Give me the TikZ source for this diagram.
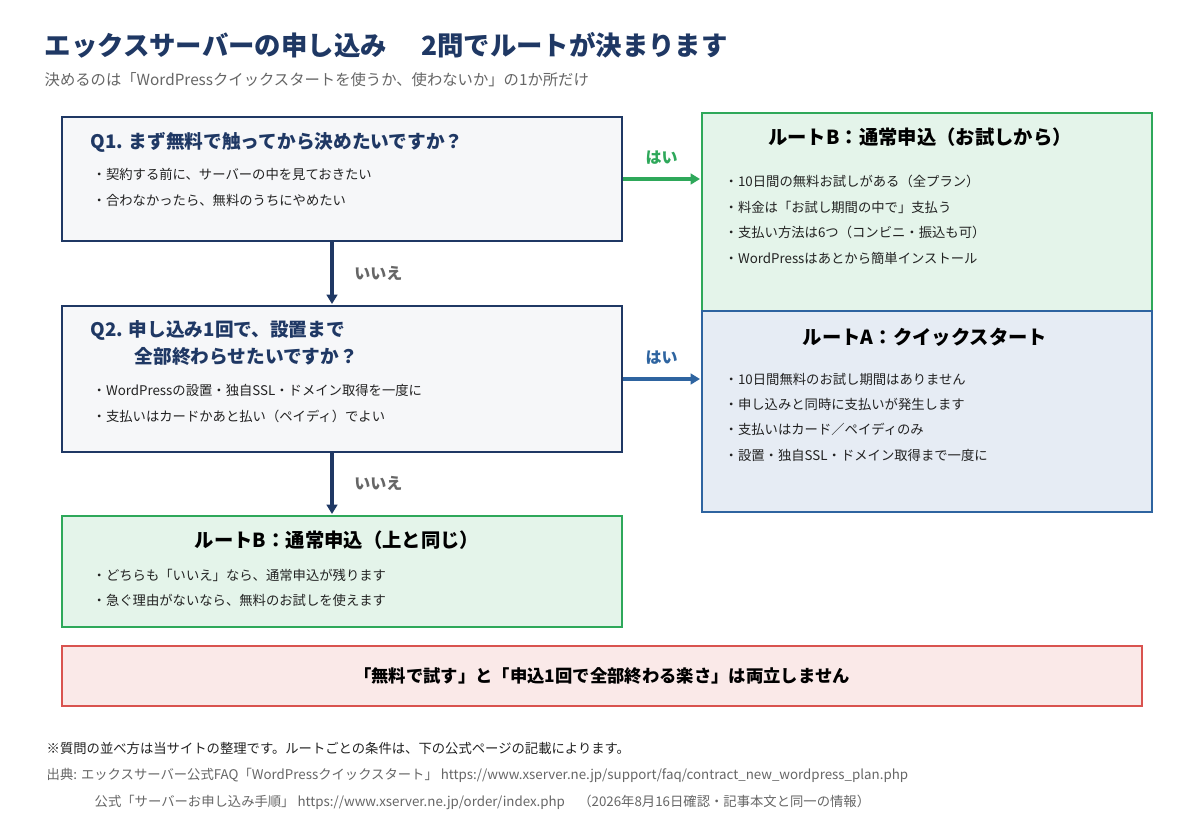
\documentclass[tikz,border=0pt]{standalone}
\usepackage{fontspec}
\setmainfont{Noto Sans CJK JP}
\usetikzlibrary{positioning,arrows.meta}
\definecolor{navy}{HTML}{1F3864}
\definecolor{grn}{HTML}{2EA85A}
\definecolor{blu}{HTML}{2E64A0}
\definecolor{rd}{HTML}{D9534F}
\definecolor{txt}{HTML}{222222}
\definecolor{gry}{HTML}{666666}
\tikzset{
  box/.style={draw,line width=2pt,inner sep=0pt},
  qbox/.style={box,draw=navy,fill=navy!4},
  gbox/.style={box,draw=grn,fill=grn!13},
  bbox/.style={box,draw=blu,fill=blu!12},
  rbox/.style={box,draw=rd,fill=rd!13},
  head/.style={font=\fontsize{14}{16}\selectfont\bfseries,text=navy},
  rhead/.style={font=\fontsize{14.5}{16}\selectfont\bfseries,text=black},
  item/.style={anchor=west,font=\fontsize{10}{12}\selectfont,text=txt},
  lbl/.style={font=\fontsize{12}{14}\selectfont\bfseries},
}
\begin{document}
\begin{tikzpicture}[x=0.75pt,y=-0.75pt]
  \useasboundingbox (0,0) rectangle (1202,832);
  \fill[white] (0,0) rectangle (1202,832);

  % title
  \node[anchor=west,font=\fontsize{19.8}{24}\selectfont\bfseries,text=navy] (title) at (40,45)
    {エックスサーバーの申し込み\hspace{1.3em}2問でルートが決まります};
  \node[anchor=west,font=\fontsize{11.5}{14}\selectfont,text=gry] (sub) at (40,80)
    {決めるのは「WordPressクイックスタートを使うか、使わないか」の1か所だけ};

  % boxes
  \path[qbox] (62,117) rectangle (622,241);
  \path[gbox] (702,113) rectangle (1152,311);
  \path[bbox] (702,311) rectangle (1152,512);
  \path[qbox] (62,306) rectangle (622,452);
  \path[gbox] (62,516) rectangle (622,627);
  \path[rbox] (62,646) rectangle (1142,706);

  % Q1
  \node[head,anchor=west] (q1h) at (86,142) {Q1. まず無料で触ってから決めたいですか？};
  \node[item] (q1a) at (88,174) {・契約する前に、サーバーの中を見ておきたい};
  \node[item] (q1b) at (88,200) {・合わなかったら、無料のうちにやめたい};

  % route B (top)
  \node[rhead] (rbh) at (920,137) {ルートB：通常申込（お試しから）};
  \node[item] (rb1) at (720,181) {・10日間の無料お試しがある（全プラン）};
  \node[item] (rb2) at (720,207) {・料金は「お試し期間の中で」支払う};
  \node[item] (rb3) at (720,232) {・支払い方法は6つ（コンビニ・振込も可）};
  \node[item] (rb4) at (720,258) {・WordPressはあとから簡単インストール};

  % route A
  \node[rhead] (rah) at (925,337) {ルートA：クイックスタート};
  \node[item] (ra1) at (720,379) {・10日間無料のお試し期間はありません};
  \node[item] (ra2) at (720,404) {・申し込みと同時に支払いが発生します};
  \node[item] (ra3) at (720,429) {・支払いはカード／ペイディのみ};
  \node[item] (ra4) at (720,455) {・設置・独自SSL・ドメイン取得まで一度に};

  % Q2
  \node[head,anchor=west] (q2h) at (86,330) {Q2. 申し込み1回で、設置まで};
  \node[head,anchor=west] (q2h2) at (130,356) {全部終わらせたいですか？};
  \node[item] (q2a) at (88,390) {・WordPressの設置・独自SSL・ドメイン取得を一度に};
  \node[item] (q2b) at (88,416) {・支払いはカードかあと払い（ペイディ）でよい};

  % route B (bottom)
  \node[rhead] (rch) at (337,540) {ルートB：通常申込（上と同じ）};
  \node[item] (rc1) at (88,575) {・どちらも「いいえ」なら、通常申込が残ります};
  \node[item] (rc2) at (88,600) {・急ぐ理由がないなら、無料のお試しを使えます};

  % note
  \node[font=\fontsize{13}{16}\selectfont\bfseries,text=black] (note) at (602,676)
    {「無料で試す」と「申込1回で全部終わる楽さ」は両立しません};

  % connectors
  \coordinate (q1r) at (623,179);
  \coordinate (rbl) at (700,179);
  \coordinate (q2r) at (623,379);
  \coordinate (ral) at (700,379);
  \coordinate (q1d) at (332,242);
  \coordinate (q2u) at (332,304);
  \coordinate (q2d) at (332,453);
  \coordinate (rcu) at (332,514);
  \draw[grn,line width=3pt,-{Triangle[length=7pt,width=8pt]}] (q1r) -- node[lbl,text=grn,above=6pt] {はい} (rbl);
  \draw[blu,line width=3pt,-{Triangle[length=7pt,width=8pt]}] (q2r) -- node[lbl,text=blu,above=6pt] {はい} (ral);
  \draw[navy,line width=3pt,-{Triangle[length=7pt,width=8pt]}] (q1d) -- node[lbl,text=gry,right=12pt] {いいえ} (q2u);
  \draw[navy,line width=3pt,-{Triangle[length=7pt,width=8pt]}] (q2d) -- node[lbl,text=gry,right=12pt] {いいえ} (rcu);

  % footer
  \node[anchor=west,font=\fontsize{10}{12}\selectfont,text=txt] (f1) at (42,748)
    {※質問の並べ方は当サイトの整理です。ルートごとの条件は、下の公式ページの記載によります。};
  \node[anchor=west,font=\fontsize{10}{12}\selectfont,text=gry] (f2) at (42,775)
    {出典: エックスサーバー公式FAQ「WordPressクイックスタート」 https://www.xserver.ne.jp/support/faq/contract\_new\_wordpress\_plan.php};
  \node[anchor=west,font=\fontsize{10}{12}\selectfont,text=gry] (f3) at (90,802)
    {公式「サーバーお申し込み手順」 https://www.xserver.ne.jp/order/index.php\quad （2026年8月16日確認・記事本文と同一の情報）};
\end{tikzpicture}
\end{document}
